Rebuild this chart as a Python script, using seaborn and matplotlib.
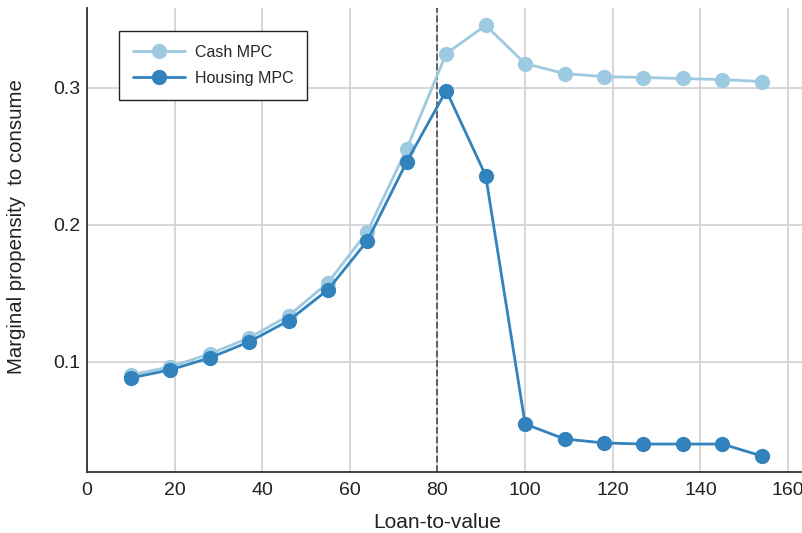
import numpy as np
import pandas as pd
import matplotlib
matplotlib.use("Agg")
import matplotlib.pyplot as plt
import seaborn as sns

# Loan-to-value buckets
ltv = [10, 19, 28, 37, 46, 55, 64, 73, 82, 91, 100, 109, 118, 127, 136, 145, 154]

cash_mpc = [0.0905, 0.0964, 0.1058, 0.1175, 0.1336, 0.1577, 0.1950, 0.2555, 0.3248,
            0.3453, 0.3175, 0.3102, 0.3080, 0.3073, 0.3066, 0.3058, 0.3044]
housing_mpc = [0.0883, 0.0942, 0.1029, 0.1146, 0.1300, 0.1526, 0.1883, 0.2460, 0.2978,
               0.2358, 0.0547, 0.0438, 0.0409, 0.0401, 0.0401, 0.0401, 0.0314]

series_names = ["Cash MPC", "Housing MPC"]
series_colors = ["#9ecae1", "#3182bd"]
ltv_threshold = 80

df = pd.DataFrame({
    "ltv": ltv * 2,
    "mpc": cash_mpc + housing_mpc,
    "series": [series_names[0]] * len(ltv) + [series_names[1]] * len(ltv),
})

sns.set_theme(style="whitegrid")
plt.rcParams["font.family"] = ["Liberation Sans", "DejaVu Sans"]

fig = plt.figure(figsize=(8.03, 5.33), dpi=100)
ax = fig.add_axes([0.1083, 0.1144, 0.8905, 0.8706])

sns.lineplot(data=df, x="ltv", y="mpc", hue="series", palette=series_colors,
             marker="o", markersize=11, markeredgewidth=0, linewidth=2.0,
             ax=ax, zorder=3)

ax.axvline(ltv_threshold, color="#555555", linestyle="--", linewidth=1.3, zorder=2)

ax.set_xlim(0, 163.2)
ax.set_ylim(0.0197, 0.358)
ax.set_xticks([0, 20, 40, 60, 80, 100, 120, 140, 160])
ax.set_yticks([0.1, 0.2, 0.3])
ax.set_yticklabels(["0.1", "0.2", "0.3"])
ax.grid(True, color="#d0d0d0", linewidth=1.2)
ax.tick_params(axis="both", labelsize=14, colors="#222222", length=0)
ax.tick_params(axis="y", pad=4.5)
ax.tick_params(axis="x", pad=7)

for side in ["top", "right"]:
    ax.spines[side].set_visible(False)
for side in ["left", "bottom"]:
    ax.spines[side].set_visible(True)
    ax.spines[side].set_color("#333333")
    ax.spines[side].set_linewidth(1.3)

ax.set_xlabel("Loan-to-value", fontsize=15, color="#222222")
ax.xaxis.set_label_coords(0.4895, -0.088)
ax.set_ylabel("Marginal propensity  to consume", fontsize=14.7, color="#222222")
ax.yaxis.set_label_coords(-0.085, 0.528)

leg = ax.legend(loc="upper left", bbox_to_anchor=(0.0448, 0.950), borderaxespad=0,
                fontsize=11.5, frameon=True, fancybox=False, borderpad=0.85,
                labelspacing=0.7, handlelength=3.3, handletextpad=0.6)
leg.get_frame().set_edgecolor("#222222")
leg.get_frame().set_linewidth(1.0)
leg.get_frame().set_alpha(1)

fig.savefig("out.png", dpi=100)
